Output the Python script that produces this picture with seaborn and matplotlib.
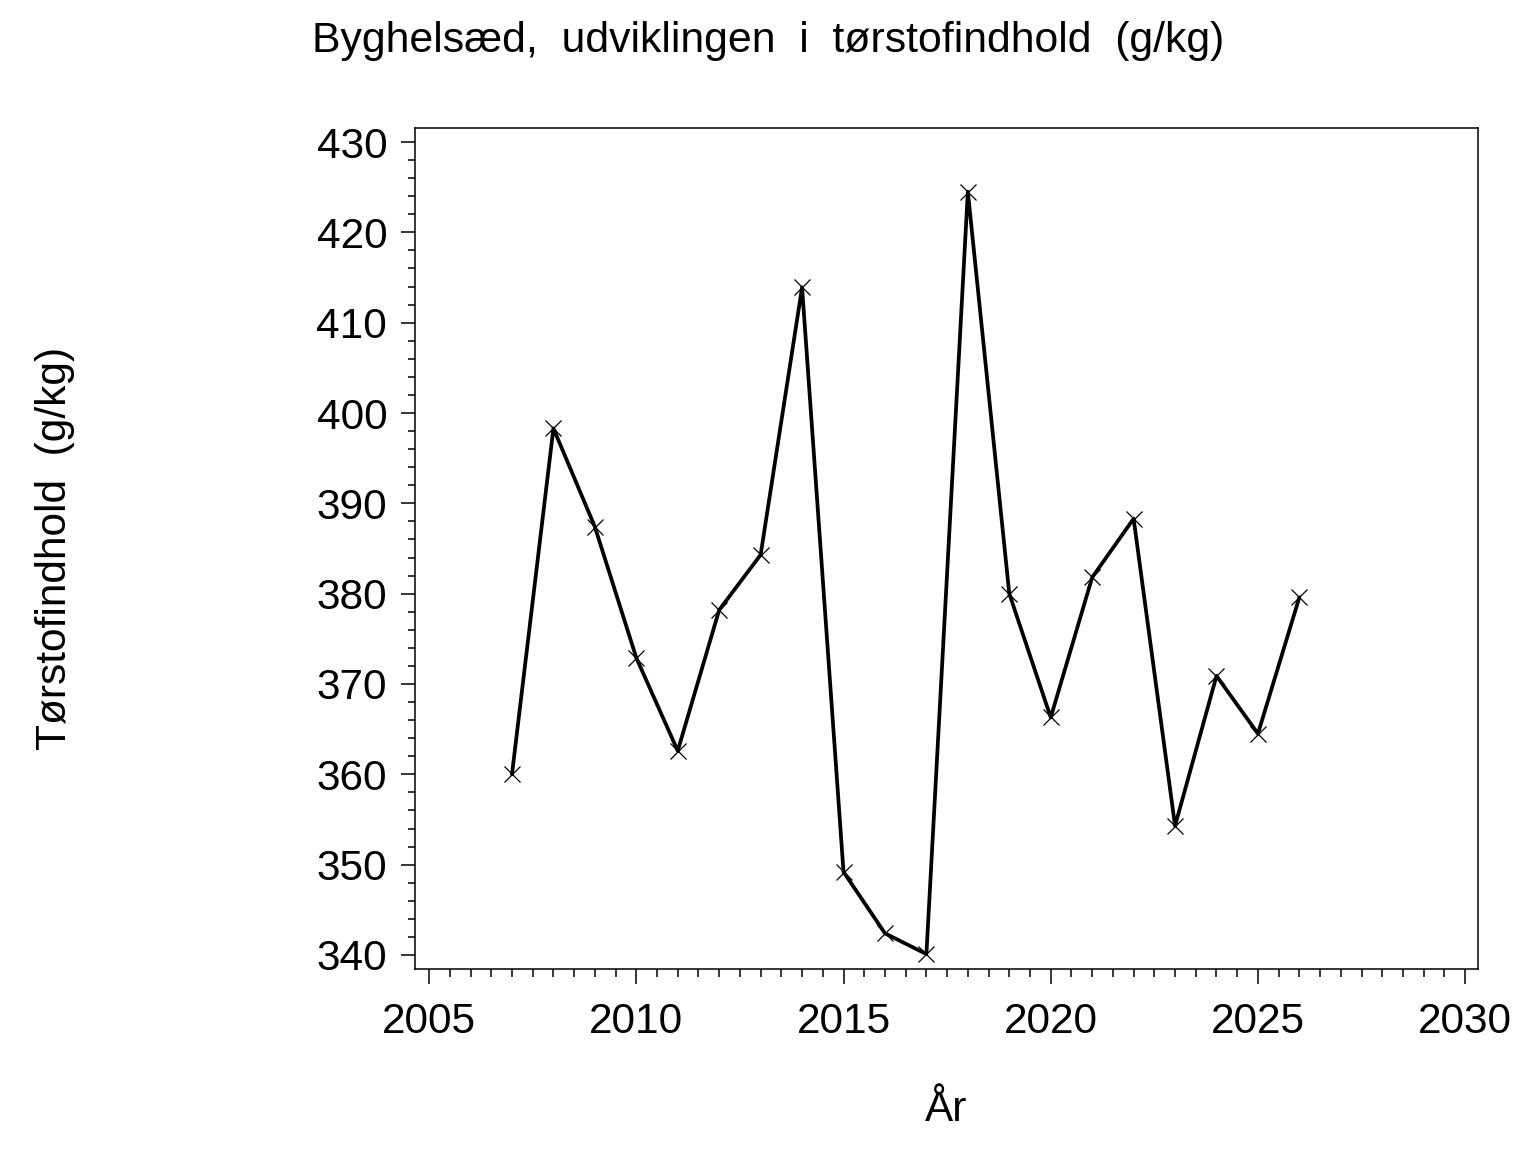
import matplotlib
matplotlib.use('Agg')
import matplotlib.pyplot as plt
import numpy as np
import pandas as pd
import seaborn as sns
from matplotlib.ticker import MultipleLocator

years = [2007, 2008, 2009, 2010, 2011, 2012, 2013, 2014, 2015, 2016,
         2017, 2018, 2019, 2020, 2021, 2022, 2023, 2024, 2025, 2026]
dry_matter = [360.0, 398.3, 387.4, 372.9, 362.6, 378.2, 384.3, 413.9, 349.2, 342.4,
              340.1, 424.5, 380.0, 366.3, 381.8, 388.3, 354.3, 370.9, 364.5, 379.6]

title = 'Byghelsæd,  udviklingen  i  tørstofindhold  (g/kg)'
x_label = 'År'
y_label = 'Tørstofindhold  (g/kg)'

df = pd.DataFrame({'year': years, 'value': dry_matter})

sns.set_style('ticks')
plt.rcParams['font.family'] = ['Liberation Sans', 'DejaVu Sans']
plt.rcParams['text.color'] = 'black'
plt.rcParams['axes.labelcolor'] = 'black'
plt.rcParams['xtick.color'] = 'black'
plt.rcParams['ytick.color'] = 'black'

fig = plt.figure(figsize=(15.36, 11.52), dpi=100)
ax = fig.add_axes([415 / 1536, 1 - 969 / 1152, 1063 / 1536, 841 / 1152])

sns.lineplot(data=df, x='year', y='value', ax=ax, color='black', linewidth=2.7,
             marker='x', markersize=11, markeredgewidth=0.9, markeredgecolor='black')

ax.set_xlim(2004.66, 2030.31)
ax.set_ylim(338.45, 431.55)
ax.xaxis.set_major_locator(MultipleLocator(5))
ax.xaxis.set_minor_locator(MultipleLocator(0.5))
ax.yaxis.set_major_locator(MultipleLocator(10))
ax.yaxis.set_minor_locator(MultipleLocator(2))

ax.tick_params(axis='both', which='major', labelsize=30.5, width=1.1,
               color='black', labelcolor='black')
ax.tick_params(axis='x', which='major', length=11, pad=13)
ax.tick_params(axis='x', which='minor', length=6, width=1.1)
ax.tick_params(axis='y', which='major', length=10, pad=10)
ax.tick_params(axis='y', which='minor', length=5, width=1.1)

for s in ax.spines.values():
    s.set_visible(True)
    s.set_linewidth(1.1)
    s.set_color('black')

ax.set_xlabel(x_label, fontsize=30.5, va='center', color='black')
ax.set_ylabel(y_label, fontsize=30.5, va='center', color='black')
ax.xaxis.set_label_coords(0.5, (969 - 1110) / 841)
ax.yaxis.set_label_coords((55 - 415) / 1063, 0.5)

fig.text(0.5, 1 - 41 / 1152, title, ha='center', va='center', fontsize=30.8, color='black')

fig.savefig('out.png', dpi=100, facecolor='white')
